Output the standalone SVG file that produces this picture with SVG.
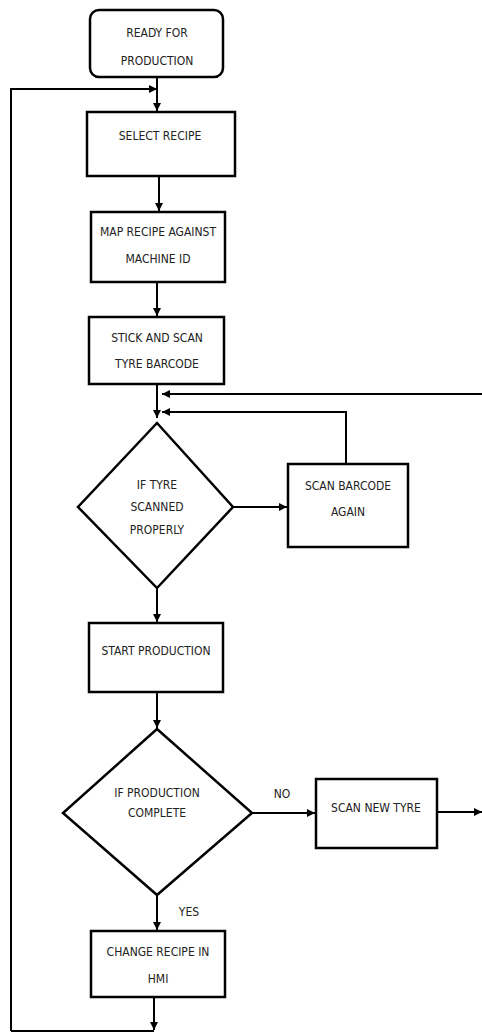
<svg xmlns="http://www.w3.org/2000/svg" width="482" height="1032" viewBox="0 0 482 1032">
<style>
.box{fill:#fff;stroke:#000;stroke-width:2.5}
.ln{fill:none;stroke:#000;stroke-width:2}
text{font-family:"Liberation Sans Narrow","DejaVu Sans Condensed","Roboto Condensed","Liberation Sans",sans-serif;font-size:12px;fill:#222;text-anchor:middle;dominant-baseline:central}
</style>
<defs>
<marker id="ah" markerUnits="userSpaceOnUse" markerWidth="9" markerHeight="8" refX="8" refY="4" orient="auto">
<path d="M0,0 L8,4 L0,8 Z" fill="#000"/>
</marker>
</defs>
<rect width="482" height="1032" fill="#fff"/>
<g id="connectors">
<path class="ln" d="M157,77 V111" marker-end="url(#ah)"/>
<path class="ln" d="M11,1031 V89 H157" marker-end="url(#ah)"/>
<path class="ln" d="M159,176 V211" marker-end="url(#ah)"/>
<path class="ln" d="M157,282 V316" marker-end="url(#ah)"/>
<path class="ln" d="M157,384 V418" marker-end="url(#ah)"/>
<path class="ln" d="M482,394 H162" marker-end="url(#ah)"/>
<path class="ln" d="M346,464 V412 H162" marker-end="url(#ah)"/>
<path class="ln" d="M233,507 H287" marker-end="url(#ah)"/>
<path class="ln" d="M157,588 V622" marker-end="url(#ah)"/>
<path class="ln" d="M157,692 V728" marker-end="url(#ah)"/>
<path class="ln" d="M252,813 H315" marker-end="url(#ah)"/>
<path class="ln" d="M437,812 H482" marker-end="url(#ah)"/>
<path class="ln" d="M157,895 V930" marker-end="url(#ah)"/>
<path class="ln" d="M154,997 V1030" marker-end="url(#ah)"/>
<path class="ln" d="M11,1031 H154"/>
<text x="282" y="794">NO</text>
<text x="189" y="912">YES</text>
</g>
<g id="ready">
<rect class="box" x="90" y="10" width="133" height="67" rx="9"/>
<text x="157" y="33">READY FOR</text>
<text x="157" y="61">PRODUCTION</text>
</g>
<g id="select">
<rect class="box" x="87" y="112" width="148" height="64"/>
<text x="160" y="136">SELECT RECIPE</text>
</g>
<g id="map">
<rect class="box" x="91" y="212" width="134" height="70"/>
<text x="158" y="232">MAP RECIPE AGAINST</text>
<text x="158" y="259">MACHINE ID</text>
</g>
<g id="stick">
<rect class="box" x="89" y="317" width="135" height="67"/>
<text x="157" y="338">STICK AND SCAN</text>
<text x="157" y="364">TYRE BARCODE</text>
</g>
<g id="scanned">
<polygon class="box" points="157,423 233,507 157,588 78,507"/>
<text x="157" y="485">IF TYRE</text>
<text x="157" y="507">SCANNED</text>
<text x="157" y="530">PROPERLY</text>
</g>
<g id="scanagain">
<rect class="box" x="288" y="464" width="120" height="83"/>
<text x="348" y="486">SCAN BARCODE</text>
<text x="348" y="512">AGAIN</text>
</g>
<g id="start">
<rect class="box" x="89" y="623" width="134" height="69"/>
<text x="156" y="651">START PRODUCTION</text>
</g>
<g id="complete">
<polygon class="box" points="157,729 252,813 157,895 63,813"/>
<text x="157" y="793">IF PRODUCTION</text>
<text x="157" y="813">COMPLETE</text>
</g>
<g id="newtyre">
<rect class="box" x="316" y="779" width="121" height="69"/>
<text x="376" y="808">SCAN NEW TYRE</text>
</g>
<g id="change">
<rect class="box" x="91" y="931" width="134" height="66"/>
<text x="158" y="952">CHANGE RECIPE IN</text>
<text x="158" y="979">HMI</text>
</g>
</svg>
